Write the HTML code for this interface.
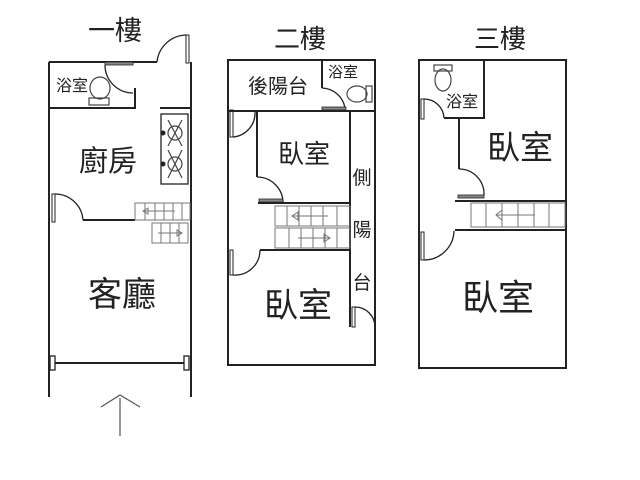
<!DOCTYPE html>
<html><head><meta charset="utf-8"><style>
html,body{margin:0;padding:0;background:#fff;}
svg{display:block;}
text{font-family:"Liberation Sans","Noto Sans CJK TC",sans-serif;fill:#222;}
</style></head><body>
<svg width="640" height="480" viewBox="0 0 640 480" xmlns="http://www.w3.org/2000/svg">
<g stroke="#222" fill="none" stroke-width="2">
<!-- Floor 1 -->
<path d="M49 62 H157 M49 62 V397 M191 62 V397"/>
<path d="M157 62 A30 30 0 0 1 187 35" stroke-width="1.3"/>
<rect x="186" y="35" width="3" height="28" stroke-width="1"/>
<path d="M49 108 H135 V88 M160 108 H191"/>
<rect x="105" y="62" width="28" height="3" fill="#888" stroke-width="0.8"/>
<path d="M105 65 A28 28 0 0 0 133 93" stroke-width="1.3"/>
<rect x="161" y="114" width="27" height="70" stroke-width="1.3"/>
<path d="M83 220 H135" />
<rect x="52" y="194" width="3" height="28" stroke-width="1"/>
<path d="M55 194 A28 28 0 0 1 83 220" stroke-width="1.3"/>
<rect x="50" y="356" width="5" height="14" stroke-width="1.3"/>
<rect x="184" y="356" width="5" height="14" stroke-width="1.3"/>
<path d="M55 363 H184"/>
<path d="M120 398 V436 M101 407 L120 395 L140 407" stroke-width="1.2" stroke="#555"/>
<!-- Floor 2 -->
<rect x="228" y="60" width="147" height="305"/>
<path d="M228 111 H375 M322 60 V88 M257 111 V177 M258 203 H350 M350 111 V327 M260 250 H350"/>
<path d="M322 88 A24 24 0 0 1 345 108" stroke-width="1.3"/>
<rect x="322" y="107" width="24" height="3" fill="#888" stroke-width="0.8"/>
<path d="M257 177 A26 26 0 0 1 283 203" stroke-width="1.3"/>
<rect x="259" y="199" width="24" height="3" fill="#888" stroke-width="0.8"/>
<rect x="230" y="110" width="3" height="27" stroke-width="1"/>
<path d="M233 137 A24 24 0 0 0 255 112" stroke-width="1.3"/>
<rect x="230" y="250" width="3" height="25" stroke-width="1"/>
<path d="M233 275 A25 25 0 0 0 260 250" stroke-width="1.3"/>
<rect x="352" y="307" width="3" height="20" stroke-width="1"/>
<path d="M355 307 A20 20 0 0 1 375 327" stroke-width="1.3"/>
<!-- Floor 3 -->
<rect x="419" y="60" width="147" height="308"/>
<path d="M484 60 V118 H444 M459 118 V169 M455 201 H566 M455 230 H566"/>
<rect x="421" y="99" width="3" height="20" stroke-width="1"/>
<path d="M424 99 A20 20 0 0 1 444 118" stroke-width="1.3"/>
<path d="M459 169 A25 25 0 0 1 484 195" stroke-width="1.3"/>
<rect x="458" y="195" width="26" height="3" fill="#888" stroke-width="0.8"/>
<rect x="421" y="232" width="3" height="28" stroke-width="1"/>
<path d="M424 260 A30 30 0 0 0 454 231" stroke-width="1.3"/>
</g>
<!-- stairs -->
<g stroke="#777" fill="none" stroke-width="1">
<rect x="135" y="203" width="55" height="17"/>
<path d="M145 203V220M155 203V220M164 203V220M173 203V220M182 203V220M143 211H175"/>
<path d="M148 208 L143 211 L148 214Z"/>
<rect x="152" y="223" width="36" height="20"/>
<path d="M161 223V243M170 223V243M179 223V243M158 233H182"/>
<path d="M177 230 L182 233 L177 236Z"/>
<rect x="275" y="206" width="75" height="20"/>
<path d="M287 206V226M299 206V226M311 206V226M323 206V226M337 206V226M292 216H328"/>
<path d="M298 212 L292 216 L298 220Z"/>
<rect x="275" y="228" width="75" height="20"/>
<path d="M289 228V248M301 228V248M313 228V248M325 228V248M337 228V248M298 238H330"/>
<path d="M324 234 L330 238 L324 242Z"/>
<rect x="471" y="203" width="94" height="24"/>
<path d="M486 203V227M502 203V227M518 203V227M534 203V227M549 203V227M496 215H535"/>
<path d="M502 210 L496 215 L502 220Z"/>
</g>
<!-- fixtures -->
<g stroke="#444" fill="none" stroke-width="1.2">
<ellipse cx="100" cy="88" rx="10" ry="11"/>
<rect x="89" y="98" width="20" height="7"/>
<ellipse cx="357" cy="94" rx="10" ry="8"/>
<rect x="366" y="86" width="6" height="16"/>
<ellipse cx="443" cy="80" rx="8" ry="11"/>
<rect x="434" y="65" width="18" height="6"/>
<path d="M168 120 L182 146 M182 120 L168 146 M168 150 L182 178 M182 150 L168 178"/>
<circle cx="175" cy="133" r="7"/><circle cx="175" cy="164" r="7"/>
</g>
<circle cx="163" cy="133" r="2.5" fill="#222"/>
<circle cx="163" cy="164" r="2.5" fill="#222"/>
<!-- labels -->
<text x="115" y="40" font-size="27" text-anchor="middle">一樓</text>
<text x="300" y="48" font-size="26" text-anchor="middle">二樓</text>
<text x="500" y="48" font-size="26" text-anchor="middle">三樓</text>
<text x="72" y="91" font-size="16" text-anchor="middle">浴室</text>
<text x="108" y="171" font-size="29" text-anchor="middle">廚房</text>
<text x="122" y="306" font-size="34" text-anchor="middle">客廳</text>
<text x="278" y="93" font-size="20" text-anchor="middle">後陽台</text>
<text x="343" y="77" font-size="15" text-anchor="middle">浴室</text>
<text x="304" y="163" font-size="26" text-anchor="middle">臥室</text>
<text x="362" y="184" font-size="19" text-anchor="middle">側</text>
<text x="362" y="236" font-size="19" text-anchor="middle">陽</text>
<text x="362" y="289" font-size="19" text-anchor="middle">台</text>
<text x="298" y="317" font-size="34" text-anchor="middle">臥室</text>
<text x="462" y="107" font-size="16" text-anchor="middle">浴室</text>
<text x="520" y="159" font-size="33" text-anchor="middle">臥室</text>
<text x="498" y="310" font-size="36" text-anchor="middle">臥室</text>
</svg>
</body></html>
